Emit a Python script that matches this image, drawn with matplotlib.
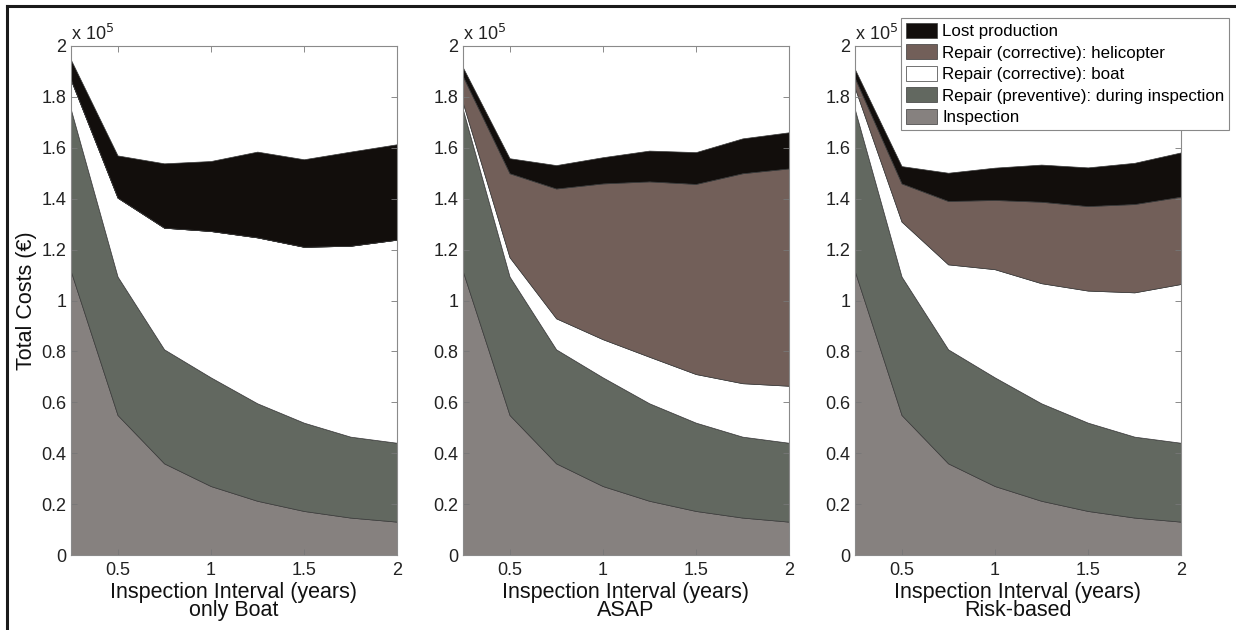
import matplotlib
matplotlib.use('Agg')
from matplotlib import pyplot as plt
from matplotlib.lines import Line2D
from matplotlib.ticker import FuncFormatter

plt.rcParams['font.family'] = ['Liberation Sans', 'DejaVu Sans']

intervals = [0.25, 0.5, 0.75, 1.0, 1.25, 1.5, 1.75, 2.0]

# cost components in euro, same inspection / preventive repair for every strategy
inspection = [111300, 55000, 36000, 27100, 21300, 17300, 14700, 13100]
preventive = [63600, 54400, 44800, 42700, 38300, 34700, 31800, 31000]

boat_only_boat = [11700, 31000, 47800, 57500, 65200, 69100, 75000, 79800]
boat_only_heli = [0, 0, 0, 0, 0, 0, 0, 0]
boat_only_lost = [7900, 16600, 25300, 27500, 33700, 34400, 37000, 37500]

asap_boat = [2600, 7600, 12200, 15000, 18300, 19100, 21000, 22400]
asap_heli = [10500, 33000, 51000, 61200, 68900, 74700, 82500, 85400]
asap_lost = [3500, 5900, 9200, 10300, 12100, 12500, 13700, 14200]

risk_boat = [8500, 21600, 33400, 42500, 47200, 51900, 56700, 62400]
risk_heli = [3900, 15000, 24900, 27200, 32000, 33200, 34700, 34300]
risk_lost = [3500, 6800, 11100, 12700, 14600, 15200, 16200, 17400]

strategies = ['only Boat', 'ASAP', 'Risk-based']
layer_names = ['Inspection', 'Repair (preventive): during inspection',
               'Repair (corrective): boat', 'Repair (corrective): helicopter',
               'Lost production']
layer_colors = ['#86817f', '#626860', '#ffffff', '#725f59', '#120e0c']

panels = [
    [inspection, preventive, boat_only_boat, boat_only_heli, boat_only_lost],
    [inspection, preventive, asap_boat, asap_heli, asap_lost],
    [inspection, preventive, risk_boat, risk_heli, risk_lost],
]

fig = plt.figure(figsize=(12.36, 6.30), dpi=100)
lefts = [71 / 1236, 463 / 1236, 855 / 1236]
width = 326 / 1236
bottom = 75 / 630
height = 509 / 630

handles = None
for i, layers in enumerate(panels):
    ax = fig.add_axes([lefts[i], bottom, width, height])
    polys = ax.stackplot(intervals, *layers, colors=layer_colors,
                         edgecolor='#3a3a3a', linewidth=0.5, labels=layer_names)
    if handles is None:
        handles = polys
    ax.set_xlim(0.25, 2)
    ax.set_ylim(0, 2e5)
    ax.set_xticks([0.5, 1, 1.5, 2])
    ax.set_xticklabels(['0.5', '1', '1.5', '2'])
    ax.set_yticks([i * 0.2e5 for i in range(11)])
    ax.yaxis.set_major_formatter(FuncFormatter(lambda v, p: '%g' % round(v / 1e5, 1)))
    ax.tick_params(direction='in', length=4, width=0.6, colors='#777777',
                   labelcolor='#222222', labelsize=13, top=True, right=True)
    ax.tick_params(axis='x', pad=5)
    for s in ax.spines.values():
        s.set_color('#8a8a8a')
        s.set_linewidth(0.8)
    ax.text(0.0, 1.003, r'x 10$^{5}$', transform=ax.transAxes, fontsize=13,
            color='#222222', ha='left', va='bottom')
    ax.set_xlabel('Inspection Interval (years)\n' + strategies[i], fontsize=15.5,
                  linespacing=0.82, labelpad=2, color='#111111')
    if i == 0:
        ax.set_ylabel('Total Costs (€)', fontsize=15.5, color='#111111')
        ax.yaxis.set_label_coords(-0.105, 0.5)

# legend lists layers from top of the stack down
leg = fig.legend(handles[::-1], layer_names[::-1], loc='upper right',
                 bbox_to_anchor=(1229 / 1236, 1 - 18 / 630), fontsize=12.2,
                 fancybox=False, framealpha=1, edgecolor='#888888',
                 handlelength=1.85, handleheight=1.0, handletextpad=0.3,
                 labelspacing=0.3, borderpad=0.28, borderaxespad=0)
leg.get_frame().set_linewidth(0.8)

# outer frame on top and left
fig.add_artist(Line2D([7 / 1236, 1235 / 1236], [1 - 6 / 630, 1 - 6 / 630],
                      color='#1a1a1a', linewidth=2.2, transform=fig.transFigure))
fig.add_artist(Line2D([7 / 1236, 7 / 1236], [0, 1 - 6 / 630],
                      color='#1a1a1a', linewidth=2.2, transform=fig.transFigure))

fig.savefig('out.png', dpi=100)
